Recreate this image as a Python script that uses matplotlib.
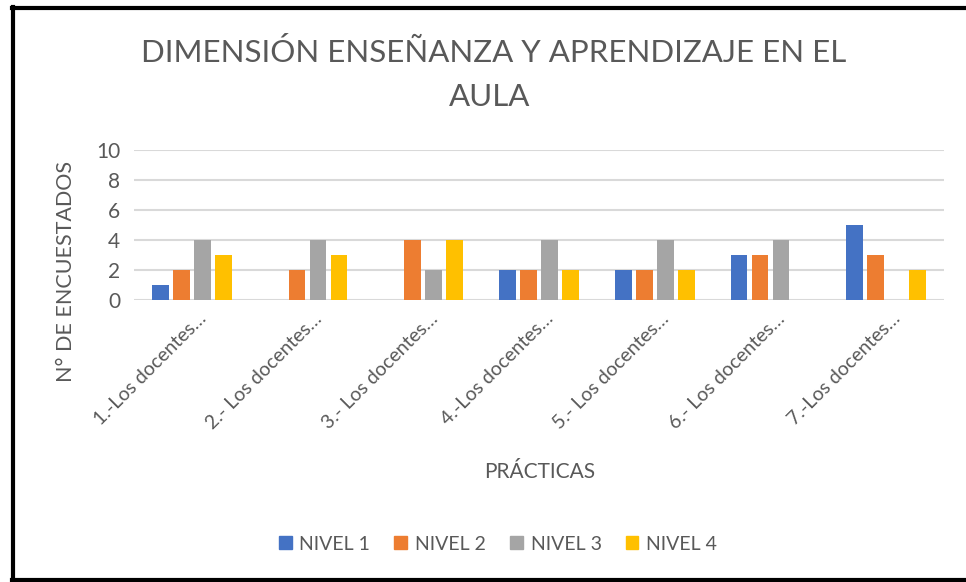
import matplotlib
matplotlib.use("Agg")
import matplotlib.pyplot as plt
import numpy as np
from matplotlib.lines import Line2D
from matplotlib.patches import Patch

categories = ["1.-Los docentes…", "2.- Los docentes…", "3.- Los docentes…",
              "4.-Los docentes…", "5.- Los docentes…", "6.- Los docentes…",
              "7.-Los docentes…"]
series_names = ["NIVEL 1", "NIVEL 2", "NIVEL 3", "NIVEL 4"]
nivel1 = [1, 0, 0, 2, 2, 3, 5]
nivel2 = [2, 2, 4, 2, 2, 3, 3]
nivel3 = [4, 4, 2, 4, 4, 4, 0]
nivel4 = [3, 3, 4, 2, 2, 0, 2]
yticks = [0, 2, 4, 6, 8, 10]
colors = ["#4472C4", "#ED7D31", "#A5A5A5", "#FFC000"]

plt.rcParams['font.family'] = ['Lato', 'DejaVu Sans']
txt = "#595959"

W, H = 966, 582
fig = plt.figure(figsize=(W / 100, H / 100), dpi=100)
ax = fig.add_axes([134 / W, 1 - 300 / H, (944 - 134) / W, 150 / H])

x = np.arange(len(categories))
step = 0.181
width = 0.145
for i, (vals, c) in enumerate(zip([nivel1, nivel2, nivel3, nivel4], colors)):
    ax.bar(x + (i - 1.5) * step, vals, width, color=c, zorder=3,
           label=series_names[i])

ax.set_xlim(-0.5, len(categories) - 0.5)
ax.set_ylim(0, 10)
ax.set_yticks(yticks)
ax.set_yticklabels([str(v) for v in yticks], fontsize=15, color=txt)
ax.yaxis.grid(True, color="#D9D9D9", linewidth=1.5, zorder=0)
ax.tick_params(axis='y', length=0, pad=10)
ax.tick_params(axis='x', length=0, pad=7)
ax.set_xticks(x + 0.05)
ax.set_xticklabels(categories, rotation=45, ha='right', va='top',
                   rotation_mode='anchor', fontsize=14, color=txt)
for s in ["top", "right", "left", "bottom"]:
    ax.spines[s].set_visible(False)

fig.text(494 / W, 1 - 52 / H, "DIMENSIÓN ENSEÑANZA Y APRENDIZAJE EN EL",
         ha='center', va='center', fontsize=22.5, color=txt)
fig.text(490 / W, 1 - 97 / H, "AULA", ha='center', va='center',
         fontsize=22.5, color=txt)
fig.text(66 / W, 1 - 272 / H, "N° DE ENCUESTADOS", rotation=90,
         ha='center', va='center', fontsize=15.5, color=txt)
fig.text(540 / W, 1 - 472 / H, "PRÁCTICAS", ha='center', va='center',
         fontsize=15, color=txt)

handles = [Patch(color=c) for c in colors]
fig.legend(handles, series_names, loc='center', ncol=4,
           bbox_to_anchor=(498 / W, 1 - 544 / H), frameon=False,
           fontsize=14, labelcolor=txt, handlelength=0.65, handleheight=0.65,
           handletextpad=0.4, columnspacing=1.25)

# outer border
fig.add_artist(Line2D([13 / W, 13 / W], [1 - 580 / H, 1 - 7 / H],
                      color='black', linewidth=3, transform=fig.transFigure))
fig.add_artist(Line2D([12 / W, 1], [1 - 7.5 / H, 1 - 7.5 / H],
                      color='black', linewidth=3, transform=fig.transFigure))
fig.add_artist(Line2D([12 / W, 1], [1 - 580 / H, 1 - 580 / H],
                      color='black', linewidth=3, transform=fig.transFigure))

fig.savefig("out.png", dpi=100)
